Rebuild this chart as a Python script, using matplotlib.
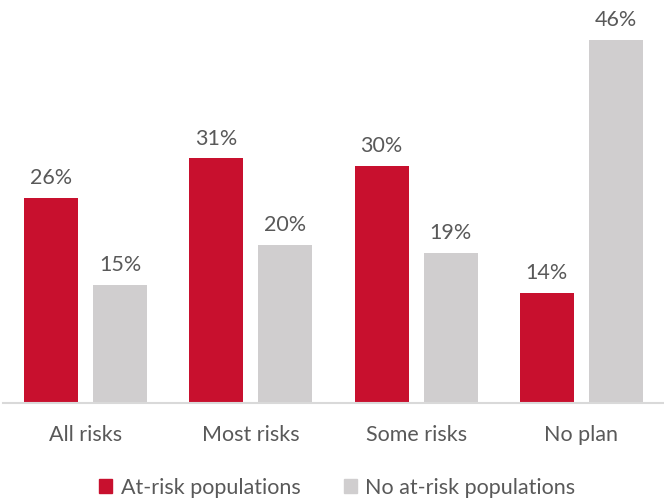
import matplotlib.pyplot as plt
import numpy as np
from matplotlib.patches import Patch

categories = ["All risks", "Most risks", "Some risks", "No plan"]
at_risk = [26, 31, 30, 14]
no_at_risk = [15, 20, 19, 46]
series_names = ["At-risk populations", "No at-risk populations"]

RED = "#C8102E"
GREY = "#D0CECF"
TEXT = "#595959"

plt.rcParams["font.family"] = ["Lato", "DejaVu Sans"]

fig = plt.figure(figsize=(6.64, 5.04), dpi=100)
ax = fig.add_axes([0.0045, 0.2004, 0.9955, 0.783])

x = np.arange(len(categories))
w = 0.327
off = w / 2 + 0.045

bars_a = ax.bar(x - off, at_risk, w, color=RED)
bars_b = ax.bar(x + off, no_at_risk, w, color=GREY)

for bars, vals in ((bars_a, at_risk), (bars_b, no_at_risk)):
    for b, v in zip(bars, vals):
        ax.annotate(f"{v}%", (b.get_x() + b.get_width() / 2, v),
                    xytext=(0, 7), textcoords="offset points",
                    ha="center", va="bottom", fontsize=15.5, color=TEXT)

ax.set_xlim(-0.5, 3.5)
ax.set_ylim(0, 50)
ax.set_xticks(x)
ax.set_xticklabels(categories, fontsize=15.5, color=TEXT)
ax.tick_params(axis="x", length=0, pad=16)
ax.set_yticks([])
for side in ("top", "right", "left"):
    ax.spines[side].set_visible(False)
ax.spines["bottom"].set_color("#D9D9D9")
ax.spines["bottom"].set_linewidth(1.5)

handles = [Patch(color=RED), Patch(color=GREY)]
fig.legend(handles, series_names, loc="center", bbox_to_anchor=(0.508, 0.032),
           ncol=2, frameon=False, fontsize=15.5, labelcolor=TEXT,
           handlelength=0.6, handleheight=0.6, handletextpad=0.4,
           columnspacing=2.0)

fig.savefig("out.png", dpi=100)
